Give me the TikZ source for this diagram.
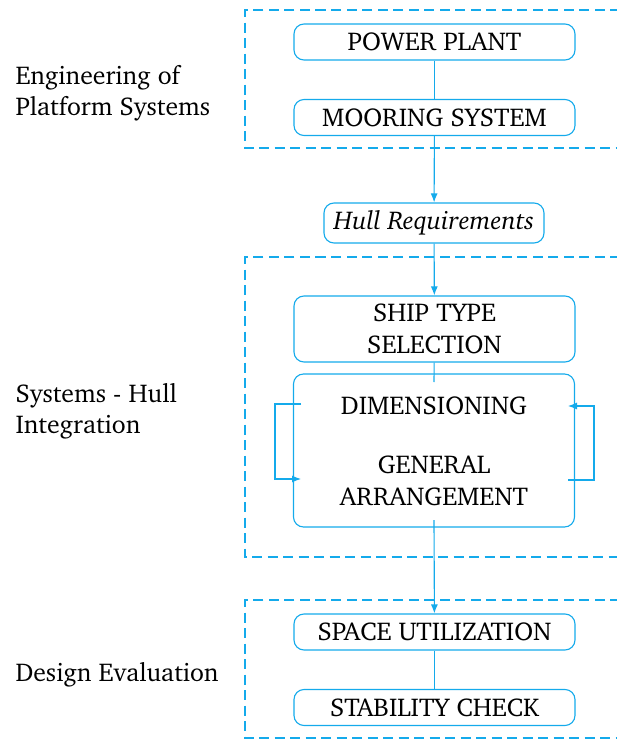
\documentclass[tikz,border=0pt]{standalone}
\usepackage[T1]{fontenc}
\usepackage{charter}
\usetikzlibrary{arrows.meta}
\definecolor{fcyan}{RGB}{20,170,235}
\begin{document}
\begin{tikzpicture}[x=0.4pt,y=-0.4pt,
  every node/.style={font=\fontsize{10.3}{12.5}\selectfont},
  box/.style={draw=fcyan,line width=0.45pt,rounded corners=4pt,minimum width=112.4pt,inner sep=0pt,align=center},
  grp/.style={draw=fcyan,line width=0.9pt,dash pattern=on 4pt off 2.2pt},
  con/.style={draw=fcyan,line width=0.45pt},
  arr/.style={con,-{Latex[length=3.6pt,width=2.8pt]}},
  lbl/.style={anchor=west,align=left,inner sep=0pt}]
\useasboundingbox (0,0) rectangle (616,740);
% group frames
\draw[grp] (620,10) -- (245,10) -- (245,148) -- (620,148);
\draw[grp] (620,257) -- (245,257) -- (245,557) -- (620,557);
\draw[grp] (620,600) -- (245,600) -- (245,738) -- (620,738);
% labels
\node[lbl] (l1) at (15,93) {Engineering of\\Platform Systems};
\node[lbl] (l2) at (15,411) {Systems - Hull\\Integration};
\node[lbl] (l3) at (15,675) {Design Evaluation};
% boxes
\node[box,minimum height=14.4pt] (pp) at (434.5,42) {POWER PLANT};
\node[box,minimum height=14.4pt] (ms) at (434.5,117.5) {MOORING SYSTEM};
\node[box,minimum width=88pt,minimum height=16pt] (hr) at (434,223) {\textit{Hull Requirements}};
\node[box,minimum height=26.4pt] (st) at (434.5,329) {SHIP TYPE\\SELECTION};
\node[box,minimum height=61.2pt] (bb) at (434,450.5) {};
\node[inner sep=0pt] (dim) at (434,406) {DIMENSIONING};
\node[inner sep=0pt,align=center] (ga) at (434,481) {GENERAL\\ARRANGEMENT};
\node[box,minimum height=14.4pt] (su) at (434.5,632) {SPACE UTILIZATION};
\node[box,minimum height=14.4pt] (sc) at (434.5,707.5) {STABILITY CHECK};
% coordinates
\coordinate (bbt) at (434,382);
\coordinate (bbb) at (434,520);
\coordinate (la) at (301,404);
\coordinate (lb) at (301,479);
\coordinate (ra) at (568,480);
\coordinate (rb) at (568,406);
% connectors
\draw[con] (pp) -- (ms);
\draw[arr] (ms) -- (hr);
\draw[arr] (hr) -- (st);
\draw[con] (st) -- (bbt);
\draw[arr] (bbb) -- (su);
\draw[con] (su) -- (sc);
\draw[arr] (la) -- (275,404) -- (275,479) -- (lb);
\draw[arr] (ra) -- (594,480) -- (594,406) -- (rb);
\end{tikzpicture}
\end{document}
